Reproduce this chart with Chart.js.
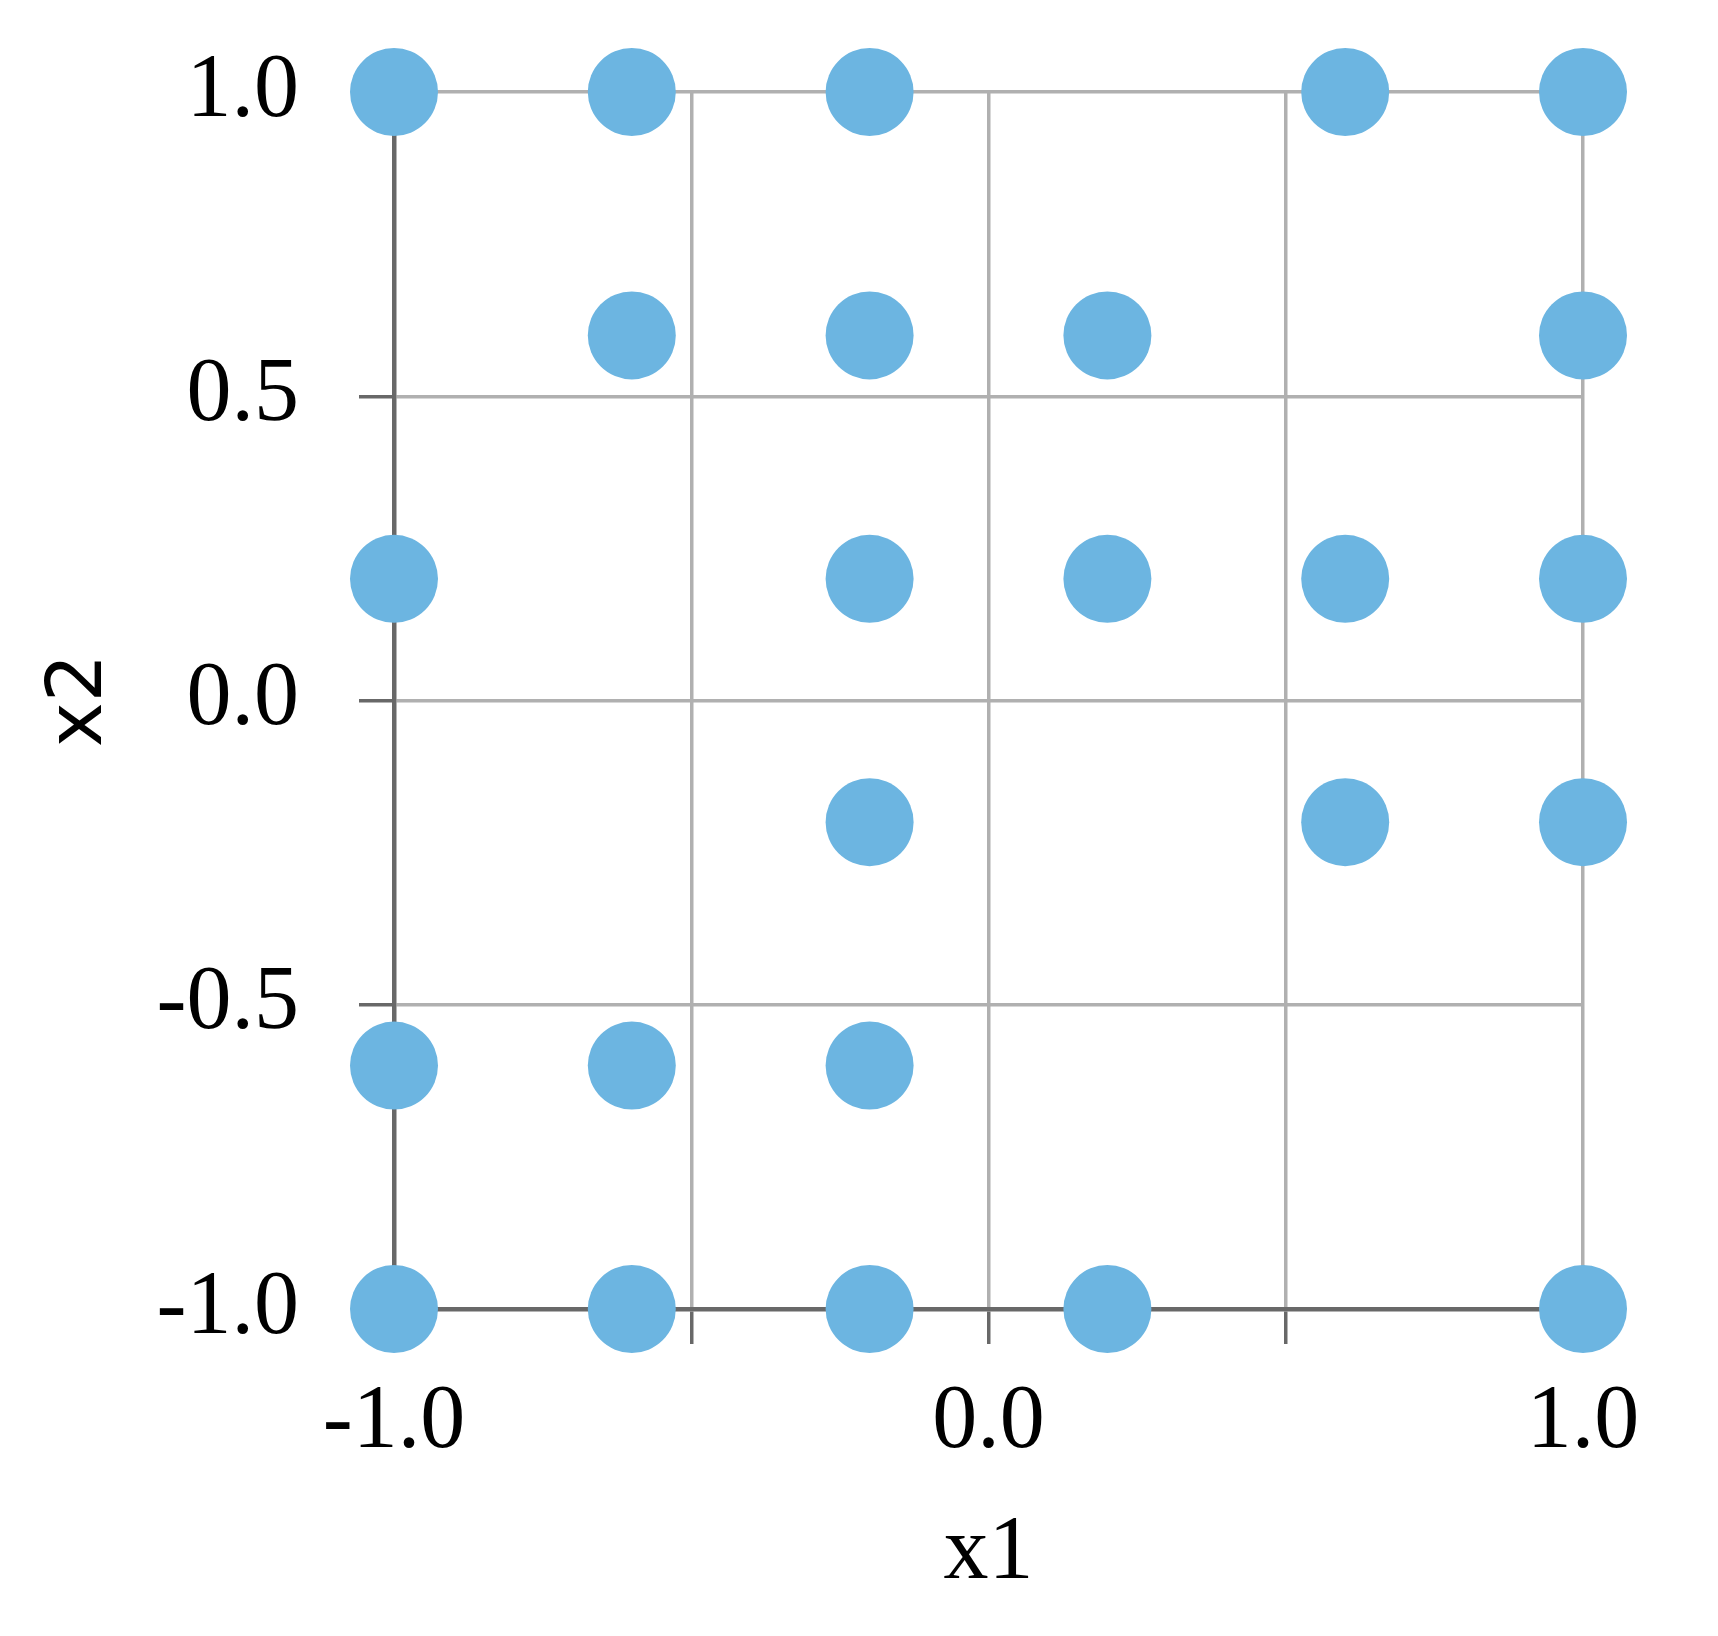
<!DOCTYPE html>
<html>
<head>
<meta charset="utf-8">
<script src="https://cdn.jsdelivr.net/npm/chart.js@4"></script>
<style>
  html, body { margin: 0; padding: 0; background: #fff; }
  #wrap { width: 1718px; height: 1636px; position: relative; }
</style>
</head>
<body>
<div id="wrap"><canvas id="chart1"></canvas></div>
<script>
// 설계점 좌표 (x1, x2)
const x1Values = [-1.0, -0.6, -0.2, 0.6, 1.0,
                  -0.6, -0.2, 0.2, 1.0,
                  -1.0, -0.2, 0.2, 0.6, 1.0,
                  -0.2, 0.6, 1.0,
                  -1.0, -0.6, -0.2,
                  -1.0, -0.6, -0.2, 0.2, 1.0];
const x2Values = [1.0, 1.0, 1.0, 1.0, 1.0,
                  0.6, 0.6, 0.6, 0.6,
                  0.2, 0.2, 0.2, 0.2, 0.2,
                  -0.2, -0.2, -0.2,
                  -0.6, -0.6, -0.6,
                  -1.0, -1.0, -1.0, -1.0, -1.0];

// 눈금 라벨
const x1TickLabels = ['-1.0', '0.0', '1.0'];
const x2TickLabels = ['-1.0', '-0.5', '0.0', '0.5', '1.0'];

const points = x1Values.map(function (v, i) {
    return { x: v, y: x2Values[i] };
});

const tickFont = { family: 'Liberation Serif', size: 90 };
const gridColor = '#b0b0b0';
const axisColor = '#686868';

let scatterChart = new Chart(document.getElementById('chart1'), {
    type: 'scatter',
    data: {
        datasets: [{
            label: 'design',
            data: points,
            backgroundColor: '#6cb5e1',
            borderWidth: 0,
            pointRadius: 44,
            pointHoverRadius: 44,
            clip: false
        }]
    },
    options: {
        responsive: true,
        maintainAspectRatio: false,
        animation: false,
        layout: {
            padding: { top: 92, right: 135, bottom: 0, left: 0 }
        },
        plugins: {
            legend: { display: false },
            tooltip: { enabled: false }
        },
        scales: {
            x: {
                type: 'linear',
                min: -1,
                max: 1,
                afterFit: function (scale) {
                    scale.height = 1636 - 1309;
                    scale.paddingLeft = 0;
                    scale.paddingRight = 0;
                },
                border: { display: true, color: axisColor, width: 4.5 },
                grid: { color: gridColor, lineWidth: 3.5, tickColor: axisColor, tickWidth: 3.5, tickLength: 35 },
                ticks: {
                    stepSize: 0.5,
                    autoSkip: false,
                    maxRotation: 0,
                    padding: 25,
                    color: '#000',
                    font: tickFont,
                    callback: function (value) {
                        const s = Number(value).toFixed(1);
                        return x1TickLabels.includes(s) ? s : '';
                    }
                },
                title: {
                    display: true,
                    text: 'x1',
                    color: '#000',
                    font: { family: 'Liberation Serif', size: 90 },
                    padding: { top: 0, bottom: 28 }
                }
            },
            y: {
                type: 'linear',
                min: -1,
                max: 1,
                afterFit: function (scale) {
                    scale.width = 394;
                    scale.paddingTop = 0;
                    scale.paddingBottom = 0;
                },
                border: { display: true, color: axisColor, width: 4.5 },
                grid: { color: gridColor, lineWidth: 3.5, tickColor: axisColor, tickWidth: 3.5, tickLength: 35 },
                ticks: {
                    stepSize: 0.5,
                    autoSkip: false,
                    padding: 60,
                    color: '#000',
                    font: tickFont,
                    callback: function (value) {
                        const s = Number(value).toFixed(1);
                        return x2TickLabels.includes(s) ? s : '';
                    }
                },
                title: {
                    display: true,
                    text: 'x2',
                    color: '#000',
                    font: { family: 'DejaVu Sans', size: 76 },
                    padding: { top: 36, bottom: 0 }
                }
            }
        }
    }
});
</script>
</body>
</html>
